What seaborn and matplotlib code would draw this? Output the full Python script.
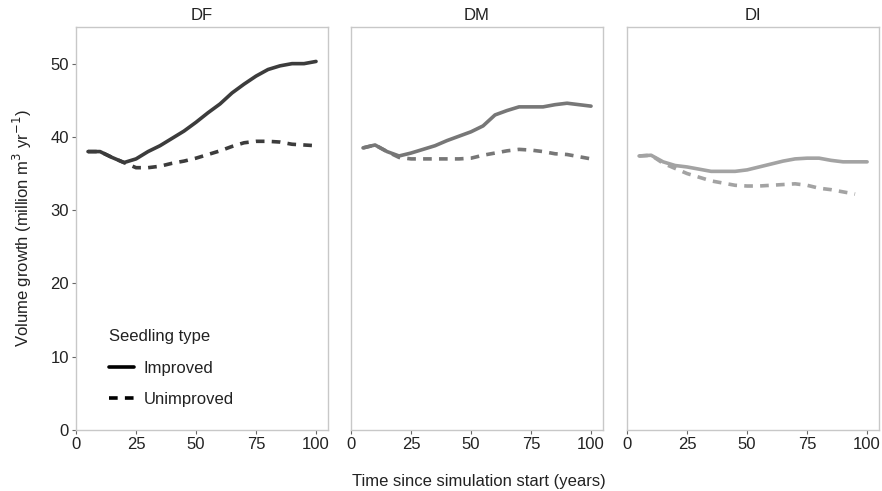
import matplotlib
matplotlib.use("Agg")
import matplotlib.pyplot as plt
from matplotlib.lines import Line2D
import seaborn as sns
import pandas as pd

sns.set_theme(style="white")
plt.rcParams["font.family"] = ["Liberation Sans", "DejaVu Sans"]

# Simulated volume growth per region (million m3 / yr)
years = [5, 10, 15, 20, 25, 30, 35, 40, 45, 50, 55, 60, 65, 70, 75, 80, 85, 90, 95, 100]

df_improved = [38.0, 38.0, 37.2, 36.5, 37.0, 38.0, 38.8, 39.8, 40.8, 42.0,
               43.3, 44.5, 46.0, 47.2, 48.3, 49.2, 49.7, 50.0, 50.0, 50.3]
df_unimproved = [38.0, 38.0, 37.2, 36.5, 35.8, 35.8, 36.0, 36.4, 36.7, 37.1,
                 37.6, 38.1, 38.7, 39.2, 39.4, 39.4, 39.3, 39.0, 38.9, 38.8]

dm_improved = [38.5, 38.9, 38.0, 37.4, 37.8, 38.3, 38.8, 39.5, 40.1, 40.7,
               41.5, 43.0, 43.6, 44.1, 44.1, 44.1, 44.4, 44.6, 44.4, 44.2]
dm_unimproved = [38.5, 38.9, 38.0, 37.2, 37.0, 37.0, 37.0, 37.0, 37.0, 37.1,
                 37.5, 37.8, 38.1, 38.3, 38.2, 38.0, 37.7, 37.6, 37.3, 37.0]

di_improved = [37.4, 37.5, 36.6, 36.1, 35.9, 35.6, 35.3, 35.3, 35.3, 35.5,
               35.9, 36.3, 36.7, 37.0, 37.1, 37.1, 36.8, 36.6, 36.6, 36.6]
di_unimproved = [37.4, 37.5, 36.4, 35.7, 35.0, 34.5, 34.0, 33.7, 33.4, 33.3,
                 33.3, 33.4, 33.5, 33.6, 33.4, 33.0, 32.8, 32.5, 32.2, None]

regions = ["DF", "DM", "DI"]
series = {
    "DF": (df_improved, df_unimproved),
    "DM": (dm_improved, dm_unimproved),
    "DI": (di_improved, di_unimproved),
}
region_colors = {"DF": "#3c3c3c", "DM": "#777777", "DI": "#a3a3a3"}

rows = []
for reg in regions:
    imp, unimp = series[reg]
    for t, v in zip(years, imp):
        rows.append((reg, "Improved", t, v))
    for t, v in zip(years, unimp):
        if v is not None:
            rows.append((reg, "Unimproved", t, v))
data = pd.DataFrame(rows, columns=["region", "seedling", "year", "growth"])

fig = plt.figure(figsize=(8.82, 4.91), dpi=100)
lefts = [0.0862, 0.398, 0.711]
width = 0.2857
bottom, height = 0.1242, 0.8208

fs = 12
text_col = "#222222"
frame_col = "#c8c8c8"
dashes = {"Improved": "", "Unimproved": (2.4, 2.0)}

axes = []
for i, reg in enumerate(regions):
    ax = fig.add_axes([lefts[i], bottom, width, height])
    axes.append(ax)
    sub = data[data["region"] == reg]
    sns.lineplot(data=sub, x="year", y="growth", style="seedling",
                 style_order=["Improved", "Unimproved"], dashes=dashes,
                 color=region_colors[reg], linewidth=2.6, legend=False,
                 ax=ax)
    ax.set_xlim(0, 105)
    ax.set_ylim(0, 55)
    ax.set_xticks([0, 25, 50, 75, 100])
    ax.set_xlabel("")
    ax.set_ylabel("")
    ax.set_title(reg, fontsize=fs, color=text_col, pad=5)
    for s in ax.spines.values():
        s.set_color(frame_col)
        s.set_linewidth(1.0)
    ax.tick_params(axis="x", bottom=True, length=3, width=0.8, color="#666666",
                   labelsize=fs, labelcolor=text_col, pad=2)
    if i == 0:
        ax.set_yticks([0, 10, 20, 30, 40, 50])
        ax.tick_params(axis="y", left=True, length=3, width=0.8,
                       color="#666666", labelsize=fs, labelcolor=text_col,
                       pad=2)
        ax.set_ylabel("Volume growth (million m$^3$ yr$^{-1}$)",
                      fontsize=fs, color=text_col, labelpad=12)
    else:
        ax.set_yticks([])

handles = [
    Line2D([], [], color="black", linewidth=2.6, label="Improved"),
    Line2D([], [], color="black", linewidth=2.6, dashes=(2.4, 2.0),
           label="Unimproved"),
]
leg = axes[0].legend(handles=handles, title="Seedling type", loc="lower left",
                     bbox_to_anchor=(0.07, 0.02), frameon=False, fontsize=fs,
                     title_fontsize=fs, handlelength=1.5, handletextpad=0.6,
                     labelspacing=0.95)
leg._legend_box.align = "left"
leg._legend_box.sep = 12
for t in leg.get_texts():
    t.set_color(text_col)
leg.get_title().set_color(text_col)

fig.text(0.543, 0.005, "Time since simulation start (years)", ha="center",
         va="bottom", fontsize=fs, color=text_col)

fig.savefig("out.png", dpi=100)
